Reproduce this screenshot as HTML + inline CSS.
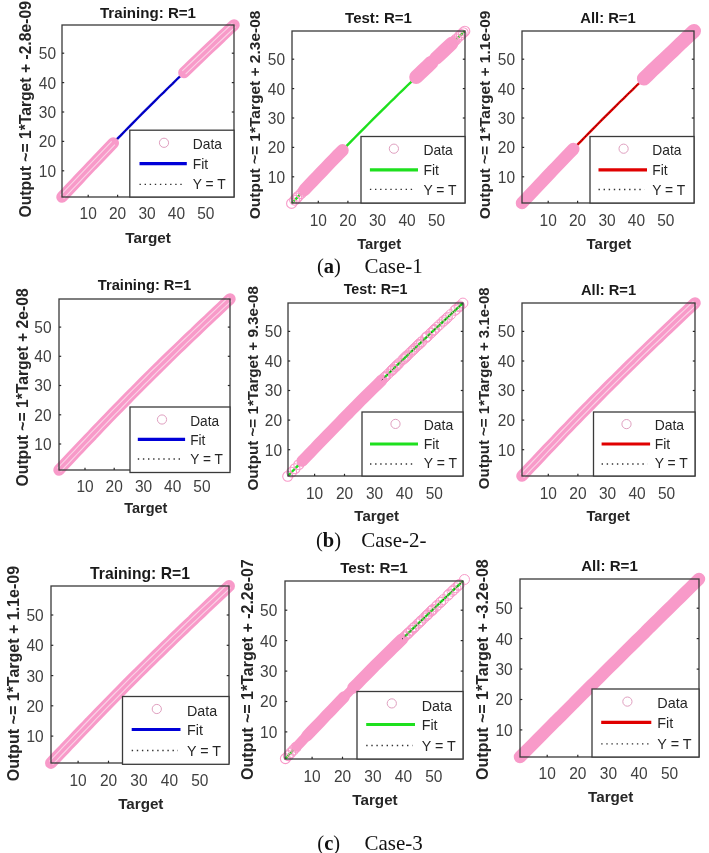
<!DOCTYPE html>
<html><head><meta charset="utf-8"><style>
html,body{margin:0;padding:0;background:#fff;width:709px;height:853px;overflow:hidden}
svg{display:block;filter:blur(0.3px)}
text{font-family:"Liberation Sans",sans-serif}
.serif{font-family:"Liberation Serif",serif}
</style></head><body>
<svg width="709" height="853" viewBox="0 0 709 853">
<rect width="709" height="853" fill="#fff"/>
<polyline points="62.0,197.0 66.2,192.6 70.3,188.1 74.5,183.7 78.7,179.3 82.9,174.9 87.1,170.5 91.3,166.1 95.5,161.7 99.7,157.3 103.9,152.9 108.1,148.5 112.3,144.1 116.5,139.7 120.8,135.4 125.0,131.0 129.3,126.7 133.5,122.3 137.8,118.0 142.1,113.7 146.4,109.4 150.7,105.1 155.0,100.8 159.3,96.5 163.7,92.3 168.0,88.0 172.4,83.8 176.7,79.5 181.1,75.3 185.5,71.1 189.9,66.9 194.3,62.7 198.7,58.5 203.1,54.3 207.5,50.1 211.9,45.9 216.3,41.7 220.7,37.5 225.1,33.3 229.6,29.2 234.0,25.0" fill="none" stroke="#0000d8" stroke-width="2.4"/>
<polyline points="62.0,197.0 66.2,192.6 70.3,188.1 74.5,183.7 78.7,179.3 82.9,174.9 87.1,170.5 91.3,166.1 95.5,161.7 99.7,157.3 103.9,152.9 108.1,148.5 112.3,144.1 116.5,139.7 120.8,135.4 125.0,131.0 129.3,126.7 133.5,122.3 137.8,118.0 142.1,113.7 146.4,109.4 150.7,105.1 155.0,100.8 159.3,96.5 163.7,92.3 168.0,88.0 172.4,83.8 176.7,79.5 181.1,75.3 185.5,71.1 189.9,66.9 194.3,62.7 198.7,58.5 203.1,54.3 207.5,50.1 211.9,45.9 216.3,41.7 220.7,37.5 225.1,33.3 229.6,29.2 234.0,25.0" fill="none" stroke="#222" stroke-width="1" stroke-dasharray="1.2 2.6"/>
<polyline points="62.0,197.0 66.3,192.5 70.5,188.0 74.8,183.5 79.0,179.0 83.3,174.4 87.6,169.9 91.8,165.4 96.1,161.0 100.4,156.5 104.7,152.0 109.0,147.5 113.3,143.1" fill="none" stroke="#f89ac9" stroke-width="11.5" stroke-linecap="round" stroke-linejoin="round"/>
<polyline points="60.4,195.4 64.6,190.9 68.9,186.3 73.2,181.8 77.4,177.3 81.7,172.8 85.9,168.3 90.2,163.8 94.5,159.3 98.8,154.8 103.1,150.4 107.4,145.9 111.7,141.4" fill="none" stroke="#fad3e6" stroke-width="1.1"/>
<polyline points="63.6,198.6 67.9,194.1 72.1,189.6 76.4,185.1 80.7,180.6 84.9,176.1 89.2,171.6 93.5,167.1 97.8,162.6 102.0,158.1 106.3,153.6 110.6,149.1 114.9,144.7" fill="none" stroke="#fad3e6" stroke-width="1.1"/>
<polyline points="183.9,72.6 188.1,68.6 192.2,64.6 196.4,60.6 200.6,56.6 204.7,52.7 208.9,48.7 213.1,44.8 217.3,40.8 221.4,36.8 225.6,32.9 229.8,28.9 234.0,25.0" fill="none" stroke="#f89ac9" stroke-width="11.5" stroke-linecap="round" stroke-linejoin="round"/>
<polyline points="182.3,70.9 186.5,66.9 190.6,63.0 194.8,59.0 198.9,55.0 203.1,51.0 207.3,47.1 211.5,43.1 215.6,39.2 219.8,35.2 224.0,31.3 228.2,27.3 232.4,23.4" fill="none" stroke="#fad3e6" stroke-width="1.1"/>
<polyline points="185.6,74.2 189.7,70.2 193.9,66.2 198.0,62.2 202.2,58.3 206.4,54.3 210.5,50.3 214.7,46.4 218.9,42.4 223.1,38.5 227.3,34.5 231.4,30.6 235.6,26.6" fill="none" stroke="#fad3e6" stroke-width="1.1"/>
<rect x="62" y="25" width="172" height="172" fill="none" stroke="#3a3a3a" stroke-width="1.3"/>
<line x1="88.2" y1="197" x2="88.2" y2="194.8" stroke="#2a2a2a" stroke-width="1.2"/>
<line x1="62" y1="170.8" x2="64.2" y2="170.8" stroke="#2a2a2a" stroke-width="1.2"/>
<line x1="234" y1="170.8" x2="231.8" y2="170.8" stroke="#2a2a2a" stroke-width="1.2"/>
<text transform="translate(56.0,176.7) scale(1,1.09)" text-anchor="end" font-size="15.5" fill="#404040">10</text>
<text transform="translate(88.2,219.1) scale(1,1.06)" text-anchor="middle" font-size="15.5" fill="#404040">10</text>
<line x1="117.6" y1="197" x2="117.6" y2="194.8" stroke="#2a2a2a" stroke-width="1.2"/>
<line x1="62" y1="141.4" x2="64.2" y2="141.4" stroke="#2a2a2a" stroke-width="1.2"/>
<line x1="234" y1="141.4" x2="231.8" y2="141.4" stroke="#2a2a2a" stroke-width="1.2"/>
<text transform="translate(56.0,147.3) scale(1,1.09)" text-anchor="end" font-size="15.5" fill="#404040">20</text>
<text transform="translate(117.6,219.1) scale(1,1.06)" text-anchor="middle" font-size="15.5" fill="#404040">20</text>
<line x1="147.0" y1="197" x2="147.0" y2="194.8" stroke="#2a2a2a" stroke-width="1.2"/>
<line x1="62" y1="112.0" x2="64.2" y2="112.0" stroke="#2a2a2a" stroke-width="1.2"/>
<line x1="234" y1="112.0" x2="231.8" y2="112.0" stroke="#2a2a2a" stroke-width="1.2"/>
<text transform="translate(56.0,117.9) scale(1,1.09)" text-anchor="end" font-size="15.5" fill="#404040">30</text>
<text transform="translate(147.0,219.1) scale(1,1.06)" text-anchor="middle" font-size="15.5" fill="#404040">30</text>
<line x1="176.4" y1="197" x2="176.4" y2="194.8" stroke="#2a2a2a" stroke-width="1.2"/>
<line x1="62" y1="82.6" x2="64.2" y2="82.6" stroke="#2a2a2a" stroke-width="1.2"/>
<line x1="234" y1="82.6" x2="231.8" y2="82.6" stroke="#2a2a2a" stroke-width="1.2"/>
<text transform="translate(56.0,88.5) scale(1,1.09)" text-anchor="end" font-size="15.5" fill="#404040">40</text>
<text transform="translate(176.4,219.1) scale(1,1.06)" text-anchor="middle" font-size="15.5" fill="#404040">40</text>
<line x1="205.8" y1="197" x2="205.8" y2="194.8" stroke="#2a2a2a" stroke-width="1.2"/>
<line x1="62" y1="53.2" x2="64.2" y2="53.2" stroke="#2a2a2a" stroke-width="1.2"/>
<line x1="234" y1="53.2" x2="231.8" y2="53.2" stroke="#2a2a2a" stroke-width="1.2"/>
<text transform="translate(56.0,59.1) scale(1,1.09)" text-anchor="end" font-size="15.5" fill="#404040">50</text>
<text transform="translate(205.8,219.1) scale(1,1.06)" text-anchor="middle" font-size="15.5" fill="#404040">50</text>
<text x="148.0" y="17.8" text-anchor="middle" font-size="15.1" font-weight="bold" fill="#1a1a1a">Training: R=1</text>
<text x="148.1" y="243.2" text-anchor="middle" font-size="15.3" font-weight="bold" fill="#262626">Target</text>
<text transform="translate(31.35,217.5) rotate(-90)" font-size="15.7" font-weight="bold" fill="#262626">Output ~= 1*Target + -2.8e-09</text>
<rect x="129.8" y="130.2" width="104.2" height="66.8" fill="#ffffff" stroke="#3a3a3a" stroke-width="1.3"/>
<circle cx="164.0" cy="142.8" r="4.6" fill="none" stroke="#e0a0c0" stroke-width="1"/>
<line x1="139.5" y1="163.7" x2="186.8" y2="163.7" stroke="#0000d8" stroke-width="3.2"/>
<line x1="139.5" y1="184.3" x2="184.3" y2="184.3" stroke="#333" stroke-width="1.3" stroke-dasharray="1.4 3.7"/>
<text transform="translate(192.8,149.0) scale(1,1.08)" font-size="13.8" fill="#262626">Data</text>
<text transform="translate(192.8,168.5) scale(1,1.08)" font-size="13.8" fill="#262626">Fit</text>
<text transform="translate(192.8,188.6) scale(1,1.08)" font-size="13.8" fill="#262626">Y = T</text>
<polyline points="292.0,203.0 296.2,198.6 300.4,194.1 304.6,189.7 308.8,185.3 313.0,180.9 317.2,176.5 321.4,172.1 325.7,167.7 329.9,163.3 334.1,158.9 338.4,154.5 342.6,150.1 346.9,145.7 351.1,141.4 355.4,137.0 359.7,132.7 364.0,128.3 368.3,124.0 372.6,119.7 376.9,115.4 381.2,111.1 385.6,106.8 389.9,102.5 394.3,98.3 398.6,94.0 403.0,89.8 407.4,85.5 411.8,81.3 416.2,77.1 420.6,72.9 425.0,68.7 429.5,64.5 433.9,60.3 438.3,56.1 442.8,51.9 447.2,47.7 451.7,43.5 456.1,39.3 460.5,35.2 465.0,31.0" fill="none" stroke="#1ee01e" stroke-width="2.4"/>
<circle cx="291.6" cy="203.4" r="5.0" fill="none" stroke="#f89ac9" stroke-width="1.1"/>
<circle cx="294.7" cy="200.2" r="5.0" fill="none" stroke="#f89ac9" stroke-width="1.1"/>
<circle cx="296.8" cy="198.0" r="5.0" fill="none" stroke="#f89ac9" stroke-width="1.1"/>
<circle cx="298.4" cy="196.2" r="5.0" fill="none" stroke="#f89ac9" stroke-width="1.1"/>
<circle cx="301.0" cy="193.6" r="5.0" fill="none" stroke="#f89ac9" stroke-width="1.1"/>
<circle cx="303.1" cy="191.3" r="5.0" fill="none" stroke="#f89ac9" stroke-width="1.1"/>
<polyline points="304.6,189.7 308.8,185.3 313.0,180.9 317.2,176.5 321.4,172.1 325.6,167.7 329.8,163.3 334.0,159.0 338.2,154.6 342.5,150.3" fill="none" stroke="#f89ac9" stroke-width="12.5" stroke-linecap="round" stroke-linejoin="round"/>
<polyline points="416.2,77.1 419.9,73.5 423.7,69.9 427.5,66.3 431.3,62.7" fill="none" stroke="#f89ac9" stroke-width="14.0" stroke-linecap="round" stroke-linejoin="round"/>
<polyline points="431.3,62.7 433.5,60.6 435.8,58.4" fill="none" stroke="#f89ac9" stroke-width="10.5" stroke-linecap="round" stroke-linejoin="round"/>
<polyline points="435.8,58.4 439.8,54.7 443.7,51.0 447.7,47.3 451.6,43.6" fill="none" stroke="#f89ac9" stroke-width="13.5" stroke-linecap="round" stroke-linejoin="round"/>
<circle cx="451.6" cy="43.6" r="5.0" fill="none" stroke="#f89ac9" stroke-width="1.1"/>
<circle cx="453.5" cy="41.7" r="5.0" fill="none" stroke="#f89ac9" stroke-width="1.1"/>
<circle cx="454.5" cy="40.9" r="5.0" fill="none" stroke="#f89ac9" stroke-width="1.1"/>
<circle cx="456.5" cy="39.0" r="5.0" fill="none" stroke="#f89ac9" stroke-width="1.1"/>
<circle cx="459.4" cy="36.2" r="5.0" fill="none" stroke="#f89ac9" stroke-width="1.1"/>
<circle cx="461.3" cy="34.5" r="5.0" fill="none" stroke="#f89ac9" stroke-width="1.1"/>
<circle cx="463.2" cy="32.7" r="5.0" fill="none" stroke="#f89ac9" stroke-width="1.1"/>
<circle cx="464.8" cy="31.2" r="5.0" fill="none" stroke="#f89ac9" stroke-width="1.1"/>
<rect x="292" y="31" width="173" height="172" fill="none" stroke="#3a3a3a" stroke-width="1.3"/>
<line x1="318.3" y1="203" x2="318.3" y2="200.8" stroke="#2a2a2a" stroke-width="1.2"/>
<line x1="292" y1="176.8" x2="294.2" y2="176.8" stroke="#2a2a2a" stroke-width="1.2"/>
<line x1="465" y1="176.8" x2="462.8" y2="176.8" stroke="#2a2a2a" stroke-width="1.2"/>
<text transform="translate(285.0,182.7) scale(1,1.09)" text-anchor="end" font-size="15.5" fill="#404040">10</text>
<text transform="translate(318.3,226.0) scale(1,1.06)" text-anchor="middle" font-size="15.5" fill="#404040">10</text>
<line x1="347.9" y1="203" x2="347.9" y2="200.8" stroke="#2a2a2a" stroke-width="1.2"/>
<line x1="292" y1="147.4" x2="294.2" y2="147.4" stroke="#2a2a2a" stroke-width="1.2"/>
<line x1="465" y1="147.4" x2="462.8" y2="147.4" stroke="#2a2a2a" stroke-width="1.2"/>
<text transform="translate(285.0,153.3) scale(1,1.09)" text-anchor="end" font-size="15.5" fill="#404040">20</text>
<text transform="translate(347.9,226.0) scale(1,1.06)" text-anchor="middle" font-size="15.5" fill="#404040">20</text>
<line x1="377.5" y1="203" x2="377.5" y2="200.8" stroke="#2a2a2a" stroke-width="1.2"/>
<line x1="292" y1="118.0" x2="294.2" y2="118.0" stroke="#2a2a2a" stroke-width="1.2"/>
<line x1="465" y1="118.0" x2="462.8" y2="118.0" stroke="#2a2a2a" stroke-width="1.2"/>
<text transform="translate(285.0,123.9) scale(1,1.09)" text-anchor="end" font-size="15.5" fill="#404040">30</text>
<text transform="translate(377.5,226.0) scale(1,1.06)" text-anchor="middle" font-size="15.5" fill="#404040">30</text>
<line x1="407.0" y1="203" x2="407.0" y2="200.8" stroke="#2a2a2a" stroke-width="1.2"/>
<line x1="292" y1="88.6" x2="294.2" y2="88.6" stroke="#2a2a2a" stroke-width="1.2"/>
<line x1="465" y1="88.6" x2="462.8" y2="88.6" stroke="#2a2a2a" stroke-width="1.2"/>
<text transform="translate(285.0,94.5) scale(1,1.09)" text-anchor="end" font-size="15.5" fill="#404040">40</text>
<text transform="translate(407.0,226.0) scale(1,1.06)" text-anchor="middle" font-size="15.5" fill="#404040">40</text>
<line x1="436.6" y1="203" x2="436.6" y2="200.8" stroke="#2a2a2a" stroke-width="1.2"/>
<line x1="292" y1="59.2" x2="294.2" y2="59.2" stroke="#2a2a2a" stroke-width="1.2"/>
<line x1="465" y1="59.2" x2="462.8" y2="59.2" stroke="#2a2a2a" stroke-width="1.2"/>
<text transform="translate(285.0,65.1) scale(1,1.09)" text-anchor="end" font-size="15.5" fill="#404040">50</text>
<text transform="translate(436.6,226.0) scale(1,1.06)" text-anchor="middle" font-size="15.5" fill="#404040">50</text>
<text x="378.5" y="22.8" text-anchor="middle" font-size="15.0" font-weight="bold" fill="#1a1a1a">Test: R=1</text>
<text x="379.2" y="248.9" text-anchor="middle" font-size="14.8" font-weight="bold" fill="#262626">Target</text>
<text transform="translate(260.3,219.2) rotate(-90)" font-size="15.5" font-weight="bold" fill="#262626">Output ~= 1*Target + 2.3e-08</text>
<rect x="361" y="136.5" width="104.0" height="66.5" fill="#ffffff" stroke="#3a3a3a" stroke-width="1.3"/>
<circle cx="393.9" cy="148.7" r="4.6" fill="none" stroke="#e0a0c0" stroke-width="1"/>
<line x1="369.9" y1="169.8" x2="418.0" y2="169.8" stroke="#1ee01e" stroke-width="3.2"/>
<line x1="369.9" y1="189.3" x2="415.5" y2="189.3" stroke="#333" stroke-width="1.3" stroke-dasharray="1.4 3.7"/>
<text transform="translate(423.5,155.3) scale(1,1.08)" font-size="13.9" fill="#262626">Data</text>
<text transform="translate(423.5,174.6) scale(1,1.08)" font-size="13.9" fill="#262626">Fit</text>
<text transform="translate(423.5,194.7) scale(1,1.08)" font-size="13.9" fill="#262626">Y = T</text>
<polyline points="522.0,203.0 526.2,198.6 530.3,194.1 534.5,189.7 538.7,185.3 542.9,180.9 547.1,176.5 551.3,172.1 555.5,167.7 559.7,163.3 563.9,158.9 568.1,154.5 572.3,150.1 576.5,145.7 580.8,141.4 585.0,137.0 589.3,132.7 593.5,128.3 597.8,124.0 602.1,119.7 606.4,115.4 610.7,111.1 615.0,106.8 619.3,102.5 623.7,98.3 628.0,94.0 632.4,89.8 636.7,85.5 641.1,81.3 645.5,77.1 649.9,72.9 654.3,68.7 658.7,64.5 663.1,60.3 667.5,56.1 671.9,51.9 676.3,47.7 680.7,43.5 685.1,39.3 689.6,35.2 694.0,31.0" fill="none" stroke="#e00000" stroke-width="2.4"/>
<polyline points="522.0,203.0 526.2,198.6 530.3,194.1 534.5,189.7 538.7,185.3 542.9,180.9 547.1,176.5 551.3,172.1 555.5,167.7 559.7,163.3 563.9,158.9 568.1,154.5 572.3,150.1 576.5,145.7 580.8,141.4 585.0,137.0 589.3,132.7 593.5,128.3 597.8,124.0 602.1,119.7 606.4,115.4 610.7,111.1 615.0,106.8 619.3,102.5 623.7,98.3 628.0,94.0 632.4,89.8 636.7,85.5 641.1,81.3 645.5,77.1 649.9,72.9 654.3,68.7 658.7,64.5 663.1,60.3 667.5,56.1 671.9,51.9 676.3,47.7 680.7,43.5 685.1,39.3 689.6,35.2 694.0,31.0" fill="none" stroke="#222" stroke-width="1" stroke-dasharray="1.2 2.6"/>
<polyline points="522.0,203.0 526.3,198.5 530.5,194.0 534.8,189.5 539.0,185.0 543.3,180.4 547.6,175.9 551.8,171.4 556.1,167.0 560.4,162.5 564.7,158.0 569.0,153.5 573.3,149.1" fill="none" stroke="#f89ac9" stroke-width="12.5" stroke-linecap="round" stroke-linejoin="round"/>
<polyline points="643.9,78.6 648.1,74.6 652.2,70.6 656.4,66.6 660.6,62.6 664.7,58.7 668.9,54.7 673.1,50.8 677.3,46.8 681.4,42.8 685.6,38.9 689.8,34.9 694.0,31.0" fill="none" stroke="#f89ac9" stroke-width="14.0" stroke-linecap="round" stroke-linejoin="round"/>
<rect x="522" y="31" width="172" height="172" fill="none" stroke="#3a3a3a" stroke-width="1.3"/>
<line x1="548.2" y1="203" x2="548.2" y2="200.8" stroke="#2a2a2a" stroke-width="1.2"/>
<line x1="522" y1="176.8" x2="524.2" y2="176.8" stroke="#2a2a2a" stroke-width="1.2"/>
<line x1="694" y1="176.8" x2="691.8" y2="176.8" stroke="#2a2a2a" stroke-width="1.2"/>
<text transform="translate(515.0,182.7) scale(1,1.09)" text-anchor="end" font-size="15.5" fill="#404040">10</text>
<text transform="translate(548.2,226.0) scale(1,1.06)" text-anchor="middle" font-size="15.5" fill="#404040">10</text>
<line x1="577.6" y1="203" x2="577.6" y2="200.8" stroke="#2a2a2a" stroke-width="1.2"/>
<line x1="522" y1="147.4" x2="524.2" y2="147.4" stroke="#2a2a2a" stroke-width="1.2"/>
<line x1="694" y1="147.4" x2="691.8" y2="147.4" stroke="#2a2a2a" stroke-width="1.2"/>
<text transform="translate(515.0,153.3) scale(1,1.09)" text-anchor="end" font-size="15.5" fill="#404040">20</text>
<text transform="translate(577.6,226.0) scale(1,1.06)" text-anchor="middle" font-size="15.5" fill="#404040">20</text>
<line x1="607.0" y1="203" x2="607.0" y2="200.8" stroke="#2a2a2a" stroke-width="1.2"/>
<line x1="522" y1="118.0" x2="524.2" y2="118.0" stroke="#2a2a2a" stroke-width="1.2"/>
<line x1="694" y1="118.0" x2="691.8" y2="118.0" stroke="#2a2a2a" stroke-width="1.2"/>
<text transform="translate(515.0,123.9) scale(1,1.09)" text-anchor="end" font-size="15.5" fill="#404040">30</text>
<text transform="translate(607.0,226.0) scale(1,1.06)" text-anchor="middle" font-size="15.5" fill="#404040">30</text>
<line x1="636.4" y1="203" x2="636.4" y2="200.8" stroke="#2a2a2a" stroke-width="1.2"/>
<line x1="522" y1="88.6" x2="524.2" y2="88.6" stroke="#2a2a2a" stroke-width="1.2"/>
<line x1="694" y1="88.6" x2="691.8" y2="88.6" stroke="#2a2a2a" stroke-width="1.2"/>
<text transform="translate(515.0,94.5) scale(1,1.09)" text-anchor="end" font-size="15.5" fill="#404040">40</text>
<text transform="translate(636.4,226.0) scale(1,1.06)" text-anchor="middle" font-size="15.5" fill="#404040">40</text>
<line x1="665.8" y1="203" x2="665.8" y2="200.8" stroke="#2a2a2a" stroke-width="1.2"/>
<line x1="522" y1="59.2" x2="524.2" y2="59.2" stroke="#2a2a2a" stroke-width="1.2"/>
<line x1="694" y1="59.2" x2="691.8" y2="59.2" stroke="#2a2a2a" stroke-width="1.2"/>
<text transform="translate(515.0,65.1) scale(1,1.09)" text-anchor="end" font-size="15.5" fill="#404040">50</text>
<text transform="translate(665.8,226.0) scale(1,1.06)" text-anchor="middle" font-size="15.5" fill="#404040">50</text>
<text x="608.0" y="22.8" text-anchor="middle" font-size="14.8" font-weight="bold" fill="#1a1a1a">All: R=1</text>
<text x="608.9" y="249.1" text-anchor="middle" font-size="15.0" font-weight="bold" fill="#262626">Target</text>
<text transform="translate(490.3,219.2) rotate(-90)" font-size="15.5" font-weight="bold" fill="#262626">Output ~= 1*Target + 1.1e-09</text>
<rect x="590" y="136.5" width="104.0" height="66.5" fill="#ffffff" stroke="#3a3a3a" stroke-width="1.3"/>
<circle cx="623.6" cy="148.7" r="4.6" fill="none" stroke="#e0a0c0" stroke-width="1"/>
<line x1="598.5" y1="169.8" x2="647.0" y2="169.8" stroke="#e00000" stroke-width="3.2"/>
<line x1="598.5" y1="189.5" x2="644.5" y2="189.5" stroke="#333" stroke-width="1.3" stroke-dasharray="1.4 3.7"/>
<text transform="translate(652.3,155.3) scale(1,1.08)" font-size="13.8" fill="#262626">Data</text>
<text transform="translate(652.3,174.6) scale(1,1.08)" font-size="13.8" fill="#262626">Fit</text>
<text transform="translate(652.3,194.7) scale(1,1.08)" font-size="13.8" fill="#262626">Y = T</text>
<polyline points="59.0,470.0 63.1,465.6 67.3,461.2 71.5,456.8 75.6,452.4 79.8,448.0 83.9,443.6 88.1,439.2 92.3,434.9 96.4,430.5 100.6,426.1 104.8,421.8 109.0,417.4 113.2,413.1 117.4,408.7 121.6,404.4 125.9,400.1 130.1,395.8 134.4,391.5 138.6,387.2 142.9,382.9 147.2,378.6 151.5,374.4 155.8,370.1 160.1,365.9 164.4,361.6 168.7,357.4 173.1,353.2 177.4,349.0 181.8,344.8 186.1,340.6 190.5,336.4 194.9,332.3 199.2,328.1 203.6,323.9 208.0,319.8 212.4,315.6 216.8,311.5 221.2,307.3 225.6,303.1 230.0,299.0" fill="none" stroke="#f89ac9" stroke-width="11.4" stroke-linecap="round" stroke-linejoin="round"/>
<polyline points="57.4,468.4 61.5,464.0 65.7,459.6 69.8,455.2 74.0,450.8 78.1,446.4 82.3,442.0 86.5,437.6 90.6,433.2 94.8,428.9 99.0,424.5 103.2,420.1 107.4,415.8 111.6,411.4 115.8,407.1 120.0,402.8 124.3,398.5 128.5,394.1 132.7,389.8 137.0,385.6 141.3,381.3 145.6,377.0 149.8,372.7 154.1,368.5 158.5,364.3 162.8,360.0 167.1,355.8 171.4,351.6 175.8,347.4 180.1,343.2 184.5,339.0 188.9,334.8 193.2,330.6 197.6,326.5 202.0,322.3 206.4,318.1 210.8,314.0 215.2,309.8 219.6,305.7 224.0,301.5 228.4,297.4" fill="none" stroke="#fad3e6" stroke-width="1.1"/>
<polyline points="60.6,471.6 64.8,467.2 68.9,462.8 73.1,458.4 77.2,454.0 81.4,449.6 85.5,445.2 89.7,440.9 93.9,436.5 98.1,432.1 102.2,427.7 106.4,423.4 110.6,419.0 114.8,414.7 119.1,410.4 123.3,406.0 127.5,401.7 131.7,397.4 136.0,393.1 140.3,388.8 144.5,384.5 148.8,380.3 153.1,376.0 157.4,371.7 161.7,367.5 166.0,363.3 170.4,359.1 174.7,354.8 179.0,350.6 183.4,346.4 187.7,342.2 192.1,338.1 196.5,333.9 200.9,329.7 205.2,325.5 209.6,321.4 214.0,317.2 218.4,313.1 222.8,308.9 227.2,304.8 231.6,300.6" fill="none" stroke="#fad3e6" stroke-width="1.1"/>
<rect x="59" y="299" width="171" height="171" fill="none" stroke="#3a3a3a" stroke-width="1.3"/>
<line x1="85.0" y1="470" x2="85.0" y2="467.8" stroke="#2a2a2a" stroke-width="1.2"/>
<line x1="59" y1="444.0" x2="61.2" y2="444.0" stroke="#2a2a2a" stroke-width="1.2"/>
<line x1="230" y1="444.0" x2="227.8" y2="444.0" stroke="#2a2a2a" stroke-width="1.2"/>
<text transform="translate(51.5,449.9) scale(1,1.09)" text-anchor="end" font-size="15.5" fill="#404040">10</text>
<text transform="translate(85.0,492.1) scale(1,1.06)" text-anchor="middle" font-size="15.5" fill="#404040">10</text>
<line x1="114.2" y1="470" x2="114.2" y2="467.8" stroke="#2a2a2a" stroke-width="1.2"/>
<line x1="59" y1="414.8" x2="61.2" y2="414.8" stroke="#2a2a2a" stroke-width="1.2"/>
<line x1="230" y1="414.8" x2="227.8" y2="414.8" stroke="#2a2a2a" stroke-width="1.2"/>
<text transform="translate(51.5,420.7) scale(1,1.09)" text-anchor="end" font-size="15.5" fill="#404040">20</text>
<text transform="translate(114.2,492.1) scale(1,1.06)" text-anchor="middle" font-size="15.5" fill="#404040">20</text>
<line x1="143.5" y1="470" x2="143.5" y2="467.8" stroke="#2a2a2a" stroke-width="1.2"/>
<line x1="59" y1="385.5" x2="61.2" y2="385.5" stroke="#2a2a2a" stroke-width="1.2"/>
<line x1="230" y1="385.5" x2="227.8" y2="385.5" stroke="#2a2a2a" stroke-width="1.2"/>
<text transform="translate(51.5,391.4) scale(1,1.09)" text-anchor="end" font-size="15.5" fill="#404040">30</text>
<text transform="translate(143.5,492.1) scale(1,1.06)" text-anchor="middle" font-size="15.5" fill="#404040">30</text>
<line x1="172.7" y1="470" x2="172.7" y2="467.8" stroke="#2a2a2a" stroke-width="1.2"/>
<line x1="59" y1="356.3" x2="61.2" y2="356.3" stroke="#2a2a2a" stroke-width="1.2"/>
<line x1="230" y1="356.3" x2="227.8" y2="356.3" stroke="#2a2a2a" stroke-width="1.2"/>
<text transform="translate(51.5,362.2) scale(1,1.09)" text-anchor="end" font-size="15.5" fill="#404040">40</text>
<text transform="translate(172.7,492.1) scale(1,1.06)" text-anchor="middle" font-size="15.5" fill="#404040">40</text>
<line x1="201.9" y1="470" x2="201.9" y2="467.8" stroke="#2a2a2a" stroke-width="1.2"/>
<line x1="59" y1="327.1" x2="61.2" y2="327.1" stroke="#2a2a2a" stroke-width="1.2"/>
<line x1="230" y1="327.1" x2="227.8" y2="327.1" stroke="#2a2a2a" stroke-width="1.2"/>
<text transform="translate(51.5,333.0) scale(1,1.09)" text-anchor="end" font-size="15.5" fill="#404040">50</text>
<text transform="translate(201.9,492.1) scale(1,1.06)" text-anchor="middle" font-size="15.5" fill="#404040">50</text>
<text x="144.5" y="290.25" text-anchor="middle" font-size="14.7" font-weight="bold" fill="#1a1a1a">Training: R=1</text>
<text x="145.8" y="513.2" text-anchor="middle" font-size="14.5" font-weight="bold" fill="#262626">Target</text>
<text transform="translate(28.25,486.4) rotate(-90)" font-size="15.7" font-weight="bold" fill="#262626">Output ~= 1*Target + 2e-08</text>
<rect x="130" y="407" width="100.0" height="65.5" fill="#ffffff" stroke="#3a3a3a" stroke-width="1.3"/>
<circle cx="162.0" cy="419.5" r="4.6" fill="none" stroke="#e0a0c0" stroke-width="1"/>
<line x1="137.8" y1="439.3" x2="185.1" y2="439.3" stroke="#0000d8" stroke-width="3.2"/>
<line x1="137.8" y1="459.0" x2="182.6" y2="459.0" stroke="#333" stroke-width="1.3" stroke-dasharray="1.4 3.7"/>
<text transform="translate(190.2,425.5) scale(1,1.08)" font-size="13.7" fill="#262626">Data</text>
<text transform="translate(190.2,444.5) scale(1,1.08)" font-size="13.7" fill="#262626">Fit</text>
<text transform="translate(190.2,464.3) scale(1,1.08)" font-size="13.7" fill="#262626">Y = T</text>
<polyline points="288.0,476.0 292.2,471.5 296.5,467.1 300.8,462.7 305.0,458.2 309.3,453.8 313.5,449.3 317.8,444.9 322.1,440.5 326.3,436.0 330.6,431.6 334.9,427.2 339.2,422.8 343.5,418.4 347.8,414.0 352.1,409.6 356.5,405.3 360.8,400.9 365.2,396.6 369.5,392.2 373.9,387.9 378.3,383.6 382.7,379.3 387.1,375.0 391.5,370.7 395.9,366.4 400.3,362.1 404.8,357.9 409.2,353.6 413.7,349.4 418.1,345.1 422.6,340.9 427.1,336.7 431.5,332.4 436.0,328.2 440.5,324.0 445.0,319.8 449.5,315.6 454.0,311.4 458.5,307.2 463.0,303.0" fill="none" stroke="#1ee01e" stroke-width="2.4"/>
<circle cx="287.7" cy="476.3" r="5.0" fill="none" stroke="#f89ac9" stroke-width="1.1"/>
<circle cx="291.6" cy="472.2" r="5.0" fill="none" stroke="#f89ac9" stroke-width="1.1"/>
<circle cx="295.0" cy="468.7" r="5.0" fill="none" stroke="#f89ac9" stroke-width="1.1"/>
<circle cx="298.8" cy="464.7" r="5.0" fill="none" stroke="#f89ac9" stroke-width="1.1"/>
<circle cx="302.4" cy="460.9" r="5.0" fill="none" stroke="#f89ac9" stroke-width="1.1"/>
<polyline points="302.2,461.1 306.4,456.8 310.5,452.5 314.7,448.1 318.8,443.8 323.0,439.5 327.1,435.2 331.3,430.9 335.4,426.7 339.6,422.4 343.8,418.1 348.0,413.9 352.2,409.6 356.4,405.4 360.6,401.1 364.8,396.9 369.1,392.7 373.3,388.5 377.6,384.3 381.8,380.1" fill="none" stroke="#f89ac9" stroke-width="11.5" stroke-linecap="round" stroke-linejoin="round"/>
<circle cx="381.0" cy="380.9" r="5.0" fill="none" stroke="#f89ac9" stroke-width="1.0"/>
<circle cx="381.9" cy="380.1" r="5.0" fill="none" stroke="#f89ac9" stroke-width="1.0"/>
<circle cx="384.1" cy="377.8" r="5.0" fill="none" stroke="#f89ac9" stroke-width="1.0"/>
<circle cx="384.7" cy="377.3" r="5.0" fill="none" stroke="#f89ac9" stroke-width="1.0"/>
<circle cx="385.7" cy="376.3" r="5.0" fill="none" stroke="#f89ac9" stroke-width="1.0"/>
<circle cx="388.1" cy="374.0" r="5.0" fill="none" stroke="#f89ac9" stroke-width="1.0"/>
<circle cx="391.1" cy="371.1" r="5.0" fill="none" stroke="#f89ac9" stroke-width="1.0"/>
<circle cx="392.0" cy="370.2" r="5.0" fill="none" stroke="#f89ac9" stroke-width="1.0"/>
<circle cx="393.2" cy="369.0" r="5.0" fill="none" stroke="#f89ac9" stroke-width="1.0"/>
<circle cx="392.8" cy="369.5" r="5.0" fill="none" stroke="#f89ac9" stroke-width="1.0"/>
<circle cx="395.1" cy="367.2" r="5.0" fill="none" stroke="#f89ac9" stroke-width="1.0"/>
<circle cx="395.6" cy="366.7" r="5.0" fill="none" stroke="#f89ac9" stroke-width="1.0"/>
<circle cx="396.6" cy="365.8" r="5.0" fill="none" stroke="#f89ac9" stroke-width="1.0"/>
<circle cx="397.7" cy="364.7" r="5.0" fill="none" stroke="#f89ac9" stroke-width="1.0"/>
<circle cx="399.3" cy="363.1" r="5.0" fill="none" stroke="#f89ac9" stroke-width="1.0"/>
<circle cx="402.9" cy="359.6" r="5.0" fill="none" stroke="#f89ac9" stroke-width="1.0"/>
<circle cx="404.0" cy="358.6" r="5.0" fill="none" stroke="#f89ac9" stroke-width="1.0"/>
<circle cx="405.2" cy="357.4" r="5.0" fill="none" stroke="#f89ac9" stroke-width="1.0"/>
<circle cx="406.5" cy="356.1" r="5.0" fill="none" stroke="#f89ac9" stroke-width="1.0"/>
<circle cx="405.9" cy="356.8" r="5.0" fill="none" stroke="#f89ac9" stroke-width="1.0"/>
<circle cx="407.6" cy="355.2" r="5.0" fill="none" stroke="#f89ac9" stroke-width="1.0"/>
<circle cx="409.9" cy="352.9" r="5.0" fill="none" stroke="#f89ac9" stroke-width="1.0"/>
<circle cx="411.6" cy="351.3" r="5.0" fill="none" stroke="#f89ac9" stroke-width="1.0"/>
<circle cx="413.3" cy="349.6" r="5.0" fill="none" stroke="#f89ac9" stroke-width="1.0"/>
<circle cx="414.7" cy="348.3" r="5.0" fill="none" stroke="#f89ac9" stroke-width="1.0"/>
<circle cx="413.5" cy="349.6" r="5.0" fill="none" stroke="#f89ac9" stroke-width="1.0"/>
<circle cx="416.5" cy="346.6" r="5.0" fill="none" stroke="#f89ac9" stroke-width="1.0"/>
<circle cx="418.0" cy="345.2" r="5.0" fill="none" stroke="#f89ac9" stroke-width="1.0"/>
<circle cx="418.8" cy="344.4" r="5.0" fill="none" stroke="#f89ac9" stroke-width="1.0"/>
<circle cx="419.1" cy="344.2" r="5.0" fill="none" stroke="#f89ac9" stroke-width="1.0"/>
<circle cx="421.4" cy="342.0" r="5.0" fill="none" stroke="#f89ac9" stroke-width="1.0"/>
<circle cx="421.5" cy="342.0" r="5.0" fill="none" stroke="#f89ac9" stroke-width="1.0"/>
<circle cx="425.5" cy="338.0" r="5.0" fill="none" stroke="#f89ac9" stroke-width="1.0"/>
<circle cx="426.7" cy="337.0" r="5.0" fill="none" stroke="#f89ac9" stroke-width="1.0"/>
<circle cx="427.0" cy="336.7" r="5.0" fill="none" stroke="#f89ac9" stroke-width="1.0"/>
<circle cx="427.5" cy="336.3" r="5.0" fill="none" stroke="#f89ac9" stroke-width="1.0"/>
<circle cx="430.8" cy="333.1" r="5.0" fill="none" stroke="#f89ac9" stroke-width="1.0"/>
<circle cx="431.1" cy="332.9" r="5.0" fill="none" stroke="#f89ac9" stroke-width="1.0"/>
<circle cx="433.4" cy="330.6" r="5.0" fill="none" stroke="#f89ac9" stroke-width="1.0"/>
<circle cx="434.6" cy="329.5" r="5.0" fill="none" stroke="#f89ac9" stroke-width="1.0"/>
<circle cx="434.0" cy="330.1" r="5.0" fill="none" stroke="#f89ac9" stroke-width="1.0"/>
<circle cx="436.9" cy="327.3" r="5.0" fill="none" stroke="#f89ac9" stroke-width="1.0"/>
<circle cx="439.6" cy="324.8" r="5.0" fill="none" stroke="#f89ac9" stroke-width="1.0"/>
<circle cx="442.6" cy="321.9" r="5.0" fill="none" stroke="#f89ac9" stroke-width="1.0"/>
<circle cx="444.3" cy="320.4" r="5.0" fill="none" stroke="#f89ac9" stroke-width="1.0"/>
<circle cx="447.5" cy="317.4" r="5.0" fill="none" stroke="#f89ac9" stroke-width="1.0"/>
<circle cx="446.3" cy="318.7" r="5.0" fill="none" stroke="#f89ac9" stroke-width="1.0"/>
<circle cx="450.6" cy="314.6" r="5.0" fill="none" stroke="#f89ac9" stroke-width="1.0"/>
<circle cx="454.9" cy="310.4" r="5.0" fill="none" stroke="#f89ac9" stroke-width="1.0"/>
<circle cx="456.2" cy="309.3" r="5.0" fill="none" stroke="#f89ac9" stroke-width="1.0"/>
<circle cx="459.7" cy="306.0" r="5.0" fill="none" stroke="#f89ac9" stroke-width="1.0"/>
<circle cx="459.0" cy="306.8" r="5.0" fill="none" stroke="#f89ac9" stroke-width="1.0"/>
<circle cx="462.9" cy="303.1" r="5.0" fill="none" stroke="#f89ac9" stroke-width="1.0"/>
<polyline points="384.8,377.1 389.1,373.0 393.4,368.8 397.7,364.6 402.0,360.5 406.4,356.3 410.7,352.2 415.0,348.1 419.3,344.0 423.7,339.8 428.0,335.7 432.4,331.6 436.8,327.5 441.1,323.4 445.5,319.3 449.9,315.3 454.2,311.2 458.6,307.1 463.0,303.0" fill="none" stroke="#1ee01e" stroke-width="2" stroke-dasharray="3 3" opacity="0.8"/>
<polyline points="381.8,380.1 386.3,375.7 390.7,371.4 395.2,367.1 399.7,362.7 404.2,358.4 408.6,354.1 413.1,349.8 417.7,345.6 422.2,341.3 426.7,337.0 431.2,332.7 435.7,328.5 440.3,324.2 444.8,320.0 449.4,315.7 453.9,311.5 458.5,307.2 463.0,303.0" fill="none" stroke="#222" stroke-width="1" stroke-dasharray="1.2 2.6"/>
<rect x="288" y="303" width="175" height="173" fill="none" stroke="#3a3a3a" stroke-width="1.3"/>
<line x1="314.6" y1="476" x2="314.6" y2="473.8" stroke="#2a2a2a" stroke-width="1.2"/>
<line x1="288" y1="449.7" x2="290.2" y2="449.7" stroke="#2a2a2a" stroke-width="1.2"/>
<line x1="463" y1="449.7" x2="460.8" y2="449.7" stroke="#2a2a2a" stroke-width="1.2"/>
<text transform="translate(282.0,455.6) scale(1,1.09)" text-anchor="end" font-size="15.5" fill="#404040">10</text>
<text transform="translate(314.6,499.1) scale(1,1.06)" text-anchor="middle" font-size="15.5" fill="#404040">10</text>
<line x1="344.5" y1="476" x2="344.5" y2="473.8" stroke="#2a2a2a" stroke-width="1.2"/>
<line x1="288" y1="420.1" x2="290.2" y2="420.1" stroke="#2a2a2a" stroke-width="1.2"/>
<line x1="463" y1="420.1" x2="460.8" y2="420.1" stroke="#2a2a2a" stroke-width="1.2"/>
<text transform="translate(282.0,426.0) scale(1,1.09)" text-anchor="end" font-size="15.5" fill="#404040">20</text>
<text transform="translate(344.5,499.1) scale(1,1.06)" text-anchor="middle" font-size="15.5" fill="#404040">20</text>
<line x1="374.5" y1="476" x2="374.5" y2="473.8" stroke="#2a2a2a" stroke-width="1.2"/>
<line x1="288" y1="390.5" x2="290.2" y2="390.5" stroke="#2a2a2a" stroke-width="1.2"/>
<line x1="463" y1="390.5" x2="460.8" y2="390.5" stroke="#2a2a2a" stroke-width="1.2"/>
<text transform="translate(282.0,396.4) scale(1,1.09)" text-anchor="end" font-size="15.5" fill="#404040">30</text>
<text transform="translate(374.5,499.1) scale(1,1.06)" text-anchor="middle" font-size="15.5" fill="#404040">30</text>
<line x1="404.4" y1="476" x2="404.4" y2="473.8" stroke="#2a2a2a" stroke-width="1.2"/>
<line x1="288" y1="361.0" x2="290.2" y2="361.0" stroke="#2a2a2a" stroke-width="1.2"/>
<line x1="463" y1="361.0" x2="460.8" y2="361.0" stroke="#2a2a2a" stroke-width="1.2"/>
<text transform="translate(282.0,366.9) scale(1,1.09)" text-anchor="end" font-size="15.5" fill="#404040">40</text>
<text transform="translate(404.4,499.1) scale(1,1.06)" text-anchor="middle" font-size="15.5" fill="#404040">40</text>
<line x1="434.3" y1="476" x2="434.3" y2="473.8" stroke="#2a2a2a" stroke-width="1.2"/>
<line x1="288" y1="331.4" x2="290.2" y2="331.4" stroke="#2a2a2a" stroke-width="1.2"/>
<line x1="463" y1="331.4" x2="460.8" y2="331.4" stroke="#2a2a2a" stroke-width="1.2"/>
<text transform="translate(282.0,337.3) scale(1,1.09)" text-anchor="end" font-size="15.5" fill="#404040">50</text>
<text transform="translate(434.3,499.1) scale(1,1.06)" text-anchor="middle" font-size="15.5" fill="#404040">50</text>
<text x="375.5" y="294.2" text-anchor="middle" font-size="14.3" font-weight="bold" fill="#1a1a1a">Test: R=1</text>
<text x="376.7" y="520.6" text-anchor="middle" font-size="15.0" font-weight="bold" fill="#262626">Target</text>
<text transform="translate(257.7,490.5) rotate(-90)" font-size="15.2" font-weight="bold" fill="#262626">Output ~= 1*Target + 9.3e-08</text>
<rect x="362" y="412" width="101.0" height="64.0" fill="#ffffff" stroke="#3a3a3a" stroke-width="1.3"/>
<circle cx="395.5" cy="423.9" r="4.6" fill="none" stroke="#e0a0c0" stroke-width="1"/>
<line x1="370.0" y1="444.0" x2="418.0" y2="444.0" stroke="#1ee01e" stroke-width="3.2"/>
<line x1="370.0" y1="464.0" x2="415.5" y2="464.0" stroke="#333" stroke-width="1.3" stroke-dasharray="1.4 3.7"/>
<text transform="translate(423.7,430.1) scale(1,1.08)" font-size="14.0" fill="#262626">Data</text>
<text transform="translate(423.7,448.7) scale(1,1.08)" font-size="14.0" fill="#262626">Fit</text>
<text transform="translate(423.7,468.0) scale(1,1.08)" font-size="14.0" fill="#262626">Y = T</text>
<polyline points="522.0,476.0 526.2,471.5 530.4,467.1 534.6,462.7 538.8,458.2 543.0,453.8 547.2,449.3 551.4,444.9 555.7,440.5 559.9,436.0 564.1,431.6 568.4,427.2 572.6,422.8 576.9,418.4 581.1,414.0 585.4,409.6 589.7,405.3 594.0,400.9 598.3,396.6 602.6,392.2 606.9,387.9 611.2,383.6 615.6,379.3 619.9,375.0 624.3,370.7 628.6,366.4 633.0,362.1 637.4,357.9 641.8,353.6 646.2,349.4 650.6,345.1 655.0,340.9 659.5,336.7 663.9,332.4 668.3,328.2 672.8,324.0 677.2,319.8 681.7,315.6 686.1,311.4 690.5,307.2 695.0,303.0" fill="none" stroke="#f89ac9" stroke-width="11.6" stroke-linecap="round" stroke-linejoin="round"/>
<polyline points="520.4,474.4 524.6,469.9 528.8,465.5 533.0,461.0 537.2,456.6 541.4,452.1 545.6,447.7 549.8,443.3 554.0,438.8 558.3,434.4 562.5,430.0 566.7,425.6 571.0,421.2 575.2,416.8 579.5,412.4 583.8,408.0 588.1,403.7 592.3,399.3 596.6,394.9 601.0,390.6 605.3,386.3 609.6,382.0 613.9,377.6 618.3,373.3 622.7,369.1 627.0,364.8 631.4,360.5 635.8,356.2 640.2,352.0 644.6,347.7 649.0,343.5 653.4,339.3 657.8,335.0 662.3,330.8 666.7,326.6 671.1,322.4 675.6,318.2 680.0,314.0 684.5,309.8 688.9,305.6 693.4,301.4" fill="none" stroke="#fad3e6" stroke-width="1.1"/>
<polyline points="523.6,477.6 527.8,473.2 532.0,468.7 536.2,464.3 540.4,459.8 544.6,455.4 548.8,450.9 553.1,446.5 557.3,442.1 561.5,437.7 565.7,433.2 570.0,428.8 574.2,424.4 578.5,420.0 582.8,415.7 587.0,411.3 591.3,406.9 595.6,402.5 599.9,398.2 604.2,393.9 608.5,389.5 612.9,385.2 617.2,380.9 621.5,376.6 625.9,372.3 630.3,368.0 634.7,363.8 639.0,359.5 643.4,355.2 647.8,351.0 652.2,346.7 656.7,342.5 661.1,338.3 665.5,334.1 669.9,329.8 674.4,325.6 678.8,321.4 683.3,317.2 687.7,313.0 692.2,308.8 696.6,304.6" fill="none" stroke="#fad3e6" stroke-width="1.1"/>
<rect x="522" y="303" width="173" height="173" fill="none" stroke="#3a3a3a" stroke-width="1.3"/>
<line x1="548.3" y1="476" x2="548.3" y2="473.8" stroke="#2a2a2a" stroke-width="1.2"/>
<line x1="522" y1="449.7" x2="524.2" y2="449.7" stroke="#2a2a2a" stroke-width="1.2"/>
<line x1="695" y1="449.7" x2="692.8" y2="449.7" stroke="#2a2a2a" stroke-width="1.2"/>
<text transform="translate(515.0,455.6) scale(1,1.09)" text-anchor="end" font-size="15.5" fill="#404040">10</text>
<text transform="translate(548.3,499.1) scale(1,1.06)" text-anchor="middle" font-size="15.5" fill="#404040">10</text>
<line x1="577.9" y1="476" x2="577.9" y2="473.8" stroke="#2a2a2a" stroke-width="1.2"/>
<line x1="522" y1="420.1" x2="524.2" y2="420.1" stroke="#2a2a2a" stroke-width="1.2"/>
<line x1="695" y1="420.1" x2="692.8" y2="420.1" stroke="#2a2a2a" stroke-width="1.2"/>
<text transform="translate(515.0,426.0) scale(1,1.09)" text-anchor="end" font-size="15.5" fill="#404040">20</text>
<text transform="translate(577.9,499.1) scale(1,1.06)" text-anchor="middle" font-size="15.5" fill="#404040">20</text>
<line x1="607.5" y1="476" x2="607.5" y2="473.8" stroke="#2a2a2a" stroke-width="1.2"/>
<line x1="522" y1="390.5" x2="524.2" y2="390.5" stroke="#2a2a2a" stroke-width="1.2"/>
<line x1="695" y1="390.5" x2="692.8" y2="390.5" stroke="#2a2a2a" stroke-width="1.2"/>
<text transform="translate(515.0,396.4) scale(1,1.09)" text-anchor="end" font-size="15.5" fill="#404040">30</text>
<text transform="translate(607.5,499.1) scale(1,1.06)" text-anchor="middle" font-size="15.5" fill="#404040">30</text>
<line x1="637.0" y1="476" x2="637.0" y2="473.8" stroke="#2a2a2a" stroke-width="1.2"/>
<line x1="522" y1="361.0" x2="524.2" y2="361.0" stroke="#2a2a2a" stroke-width="1.2"/>
<line x1="695" y1="361.0" x2="692.8" y2="361.0" stroke="#2a2a2a" stroke-width="1.2"/>
<text transform="translate(515.0,366.9) scale(1,1.09)" text-anchor="end" font-size="15.5" fill="#404040">40</text>
<text transform="translate(637.0,499.1) scale(1,1.06)" text-anchor="middle" font-size="15.5" fill="#404040">40</text>
<line x1="666.6" y1="476" x2="666.6" y2="473.8" stroke="#2a2a2a" stroke-width="1.2"/>
<line x1="522" y1="331.4" x2="524.2" y2="331.4" stroke="#2a2a2a" stroke-width="1.2"/>
<line x1="695" y1="331.4" x2="692.8" y2="331.4" stroke="#2a2a2a" stroke-width="1.2"/>
<text transform="translate(515.0,337.3) scale(1,1.09)" text-anchor="end" font-size="15.5" fill="#404040">50</text>
<text transform="translate(666.6,499.1) scale(1,1.06)" text-anchor="middle" font-size="15.5" fill="#404040">50</text>
<text x="608.5" y="295.2" text-anchor="middle" font-size="14.7" font-weight="bold" fill="#1a1a1a">All: R=1</text>
<text x="608.2" y="520.6" text-anchor="middle" font-size="14.6" font-weight="bold" fill="#262626">Target</text>
<text transform="translate(489.1,489.2) rotate(-90)" font-size="15.0" font-weight="bold" fill="#262626">Output ~= 1*Target + 3.1e-08</text>
<rect x="593.5" y="412" width="101.5" height="64.0" fill="#ffffff" stroke="#3a3a3a" stroke-width="1.3"/>
<circle cx="626.5" cy="424.1" r="4.6" fill="none" stroke="#e0a0c0" stroke-width="1"/>
<line x1="601.6" y1="444.0" x2="650.1" y2="444.0" stroke="#e00000" stroke-width="3.2"/>
<line x1="601.6" y1="464.0" x2="647.6" y2="464.0" stroke="#333" stroke-width="1.3" stroke-dasharray="1.4 3.7"/>
<text transform="translate(654.7,430.1) scale(1,1.08)" font-size="13.9" fill="#262626">Data</text>
<text transform="translate(654.7,448.7) scale(1,1.08)" font-size="13.9" fill="#262626">Fit</text>
<text transform="translate(654.7,468.0) scale(1,1.08)" font-size="13.9" fill="#262626">Y = T</text>
<polyline points="51.0,763.0 55.3,758.4 59.6,753.9 64.0,749.4 68.3,744.8 72.6,740.3 77.0,735.7 81.3,731.2 85.7,726.7 90.0,722.1 94.4,717.6 98.7,713.1 103.1,708.6 107.5,704.1 111.9,699.6 116.3,695.1 120.7,690.7 125.1,686.2 129.5,681.8 134.0,677.3 138.4,672.9 142.9,668.5 147.3,664.1 151.8,659.7 156.3,655.3 160.8,650.9 165.3,646.5 169.8,642.2 174.3,637.8 178.8,633.5 183.4,629.1 187.9,624.8 192.5,620.5 197.0,616.1 201.6,611.8 206.1,607.5 210.7,603.2 215.3,598.9 219.8,594.6 224.4,590.3 229.0,586.0" fill="none" stroke="#f89ac9" stroke-width="11.9" stroke-linecap="round" stroke-linejoin="round"/>
<polyline points="49.4,761.4 53.7,756.8 58.0,752.3 62.4,747.7 66.7,743.2 71.0,738.6 75.3,734.1 79.7,729.6 84.0,725.0 88.4,720.5 92.7,716.0 97.1,711.5 101.5,707.0 105.9,702.5 110.2,698.0 114.6,693.5 119.1,689.1 123.5,684.6 127.9,680.1 132.3,675.7 136.8,671.3 141.2,666.9 145.7,662.4 150.2,658.0 154.7,653.7 159.1,649.3 163.6,644.9 168.2,640.5 172.7,636.2 177.2,631.8 181.7,627.5 186.3,623.2 190.8,618.8 195.4,614.5 199.9,610.2 204.5,605.9 209.1,601.6 213.7,597.3 218.2,593.0 222.8,588.7 227.4,584.4" fill="none" stroke="#fad3e6" stroke-width="1.1"/>
<polyline points="52.6,764.6 57.0,760.1 61.3,755.5 65.6,751.0 69.9,746.4 74.3,741.9 78.6,737.3 82.9,732.8 87.3,728.3 91.6,723.8 96.0,719.2 100.4,714.7 104.7,710.2 109.1,705.7 113.5,701.3 117.9,696.8 122.3,692.3 126.7,687.8 131.1,683.4 135.6,679.0 140.0,674.5 144.5,670.1 148.9,665.7 153.4,661.3 157.9,656.9 162.4,652.5 166.9,648.2 171.4,643.8 175.9,639.4 180.5,635.1 185.0,630.7 189.5,626.4 194.1,622.1 198.6,617.8 203.2,613.4 207.8,609.1 212.3,604.8 216.9,600.5 221.5,596.2 226.1,591.9 230.6,587.6" fill="none" stroke="#fad3e6" stroke-width="1.1"/>
<rect x="51" y="586" width="178" height="177" fill="none" stroke="#3a3a3a" stroke-width="1.3"/>
<line x1="78.1" y1="763" x2="78.1" y2="760.7" stroke="#2a2a2a" stroke-width="1.2"/>
<line x1="51" y1="736.1" x2="53.3" y2="736.1" stroke="#2a2a2a" stroke-width="1.2"/>
<line x1="229" y1="736.1" x2="226.7" y2="736.1" stroke="#2a2a2a" stroke-width="1.2"/>
<text transform="translate(43.7,742.0) scale(1,1.09)" text-anchor="end" font-size="15.5" fill="#404040">10</text>
<text transform="translate(78.1,785.5) scale(1,1.06)" text-anchor="middle" font-size="15.5" fill="#404040">10</text>
<line x1="108.5" y1="763" x2="108.5" y2="760.7" stroke="#2a2a2a" stroke-width="1.2"/>
<line x1="51" y1="705.8" x2="53.3" y2="705.8" stroke="#2a2a2a" stroke-width="1.2"/>
<line x1="229" y1="705.8" x2="226.7" y2="705.8" stroke="#2a2a2a" stroke-width="1.2"/>
<text transform="translate(43.7,711.7) scale(1,1.09)" text-anchor="end" font-size="15.5" fill="#404040">20</text>
<text transform="translate(108.5,785.5) scale(1,1.06)" text-anchor="middle" font-size="15.5" fill="#404040">20</text>
<line x1="138.9" y1="763" x2="138.9" y2="760.7" stroke="#2a2a2a" stroke-width="1.2"/>
<line x1="51" y1="675.6" x2="53.3" y2="675.6" stroke="#2a2a2a" stroke-width="1.2"/>
<line x1="229" y1="675.6" x2="226.7" y2="675.6" stroke="#2a2a2a" stroke-width="1.2"/>
<text transform="translate(43.7,681.5) scale(1,1.09)" text-anchor="end" font-size="15.5" fill="#404040">30</text>
<text transform="translate(138.9,785.5) scale(1,1.06)" text-anchor="middle" font-size="15.5" fill="#404040">30</text>
<line x1="169.4" y1="763" x2="169.4" y2="760.7" stroke="#2a2a2a" stroke-width="1.2"/>
<line x1="51" y1="645.3" x2="53.3" y2="645.3" stroke="#2a2a2a" stroke-width="1.2"/>
<line x1="229" y1="645.3" x2="226.7" y2="645.3" stroke="#2a2a2a" stroke-width="1.2"/>
<text transform="translate(43.7,651.2) scale(1,1.09)" text-anchor="end" font-size="15.5" fill="#404040">40</text>
<text transform="translate(169.4,785.5) scale(1,1.06)" text-anchor="middle" font-size="15.5" fill="#404040">40</text>
<line x1="199.8" y1="763" x2="199.8" y2="760.7" stroke="#2a2a2a" stroke-width="1.2"/>
<line x1="51" y1="615.0" x2="53.3" y2="615.0" stroke="#2a2a2a" stroke-width="1.2"/>
<line x1="229" y1="615.0" x2="226.7" y2="615.0" stroke="#2a2a2a" stroke-width="1.2"/>
<text transform="translate(43.7,620.9) scale(1,1.09)" text-anchor="end" font-size="15.5" fill="#404040">50</text>
<text transform="translate(199.8,785.5) scale(1,1.06)" text-anchor="middle" font-size="15.5" fill="#404040">50</text>
<text x="140.0" y="578.6" text-anchor="middle" font-size="15.7" font-weight="bold" fill="#1a1a1a">Training: R=1</text>
<text x="140.8" y="808.8" text-anchor="middle" font-size="15.2" font-weight="bold" fill="#262626">Target</text>
<text transform="translate(19.2,781.3) rotate(-90)" font-size="16.0" font-weight="bold" fill="#262626">Output ~= 1*Target + 1.1e-09</text>
<rect x="122.5" y="696.5" width="106.5" height="67.8" fill="#ffffff" stroke="#3a3a3a" stroke-width="1.3"/>
<circle cx="156.8" cy="709.0" r="4.6" fill="none" stroke="#e0a0c0" stroke-width="1"/>
<line x1="131.7" y1="729.5" x2="180.5" y2="729.5" stroke="#0000d8" stroke-width="3.2"/>
<line x1="131.7" y1="750.5" x2="178.0" y2="750.5" stroke="#333" stroke-width="1.3" stroke-dasharray="1.4 3.7"/>
<text transform="translate(187.0,715.6) scale(1,1.08)" font-size="14.3" fill="#262626">Data</text>
<text transform="translate(187.0,735.4) scale(1,1.08)" font-size="14.3" fill="#262626">Fit</text>
<text transform="translate(187.0,755.8) scale(1,1.08)" font-size="14.3" fill="#262626">Y = T</text>
<polyline points="285.0,759.0 289.3,754.4 293.6,749.8 298.0,745.3 302.3,740.7 306.6,736.1 311.0,731.6 315.3,727.0 319.7,722.5 324.0,717.9 328.4,713.4 332.7,708.8 337.1,704.3 341.5,699.8 345.9,695.3 350.3,690.8 354.7,686.3 359.1,681.8 363.5,677.3 368.0,672.9 372.4,668.4 376.9,664.0 381.3,659.5 385.8,655.1 390.3,650.7 394.8,646.3 399.3,641.9 403.8,637.5 408.3,633.1 412.8,628.7 417.4,624.4 421.9,620.0 426.5,615.7 431.0,611.3 435.6,607.0 440.1,602.6 444.7,598.3 449.3,594.0 453.8,589.6 458.4,585.3 463.0,581.0" fill="none" stroke="#1ee01e" stroke-width="2.4"/>
<circle cx="285.4" cy="758.6" r="5.0" fill="none" stroke="#f89ac9" stroke-width="1.1"/>
<circle cx="288.3" cy="755.6" r="5.0" fill="none" stroke="#f89ac9" stroke-width="1.1"/>
<circle cx="290.7" cy="752.9" r="5.0" fill="none" stroke="#f89ac9" stroke-width="1.1"/>
<circle cx="293.4" cy="750.1" r="5.0" fill="none" stroke="#f89ac9" stroke-width="1.1"/>
<circle cx="295.9" cy="747.4" r="5.0" fill="none" stroke="#f89ac9" stroke-width="1.1"/>
<polyline points="296.5,746.8 299.5,743.7 302.5,740.5 305.4,737.4" fill="none" stroke="#f89ac9" stroke-width="10.0" stroke-linecap="round" stroke-linejoin="round"/>
<polyline points="306.9,735.9 311.0,731.5 315.1,727.2 319.3,722.9 323.4,718.6 327.5,714.2 331.7,709.9 335.8,705.6 340.0,701.3 344.1,697.0" fill="none" stroke="#f89ac9" stroke-width="11.5" stroke-linecap="round" stroke-linejoin="round"/>
<polyline points="344.1,697.0 347.2,694.0 350.2,690.9 353.2,687.8" fill="none" stroke="#f89ac9" stroke-width="9.0" stroke-linecap="round" stroke-linejoin="round"/>
<polyline points="353.2,687.8 357.6,683.4 362.0,678.9 366.4,674.5 370.8,670.0 375.2,665.6 379.6,661.2 384.1,656.8 388.5,652.4 393.0,648.0 397.5,643.6 402.0,639.2" fill="none" stroke="#f89ac9" stroke-width="12.0" stroke-linecap="round" stroke-linejoin="round"/>
<circle cx="401.3" cy="640.0" r="5.0" fill="none" stroke="#f89ac9" stroke-width="1.0"/>
<circle cx="401.9" cy="639.3" r="5.0" fill="none" stroke="#f89ac9" stroke-width="1.0"/>
<circle cx="405.3" cy="636.0" r="5.0" fill="none" stroke="#f89ac9" stroke-width="1.0"/>
<circle cx="404.3" cy="637.0" r="5.0" fill="none" stroke="#f89ac9" stroke-width="1.0"/>
<circle cx="407.5" cy="633.9" r="5.0" fill="none" stroke="#f89ac9" stroke-width="1.0"/>
<circle cx="408.2" cy="633.3" r="5.0" fill="none" stroke="#f89ac9" stroke-width="1.0"/>
<circle cx="408.3" cy="633.2" r="5.0" fill="none" stroke="#f89ac9" stroke-width="1.0"/>
<circle cx="411.4" cy="630.1" r="5.0" fill="none" stroke="#f89ac9" stroke-width="1.0"/>
<circle cx="410.9" cy="630.7" r="5.0" fill="none" stroke="#f89ac9" stroke-width="1.0"/>
<circle cx="413.8" cy="627.8" r="5.0" fill="none" stroke="#f89ac9" stroke-width="1.0"/>
<circle cx="413.7" cy="628.0" r="5.0" fill="none" stroke="#f89ac9" stroke-width="1.0"/>
<circle cx="415.1" cy="626.6" r="5.0" fill="none" stroke="#f89ac9" stroke-width="1.0"/>
<circle cx="417.8" cy="623.9" r="5.0" fill="none" stroke="#f89ac9" stroke-width="1.0"/>
<circle cx="420.8" cy="621.0" r="5.0" fill="none" stroke="#f89ac9" stroke-width="1.0"/>
<circle cx="419.3" cy="622.6" r="5.0" fill="none" stroke="#f89ac9" stroke-width="1.0"/>
<circle cx="421.1" cy="620.9" r="5.0" fill="none" stroke="#f89ac9" stroke-width="1.0"/>
<circle cx="424.0" cy="618.0" r="5.0" fill="none" stroke="#f89ac9" stroke-width="1.0"/>
<circle cx="426.7" cy="615.4" r="5.0" fill="none" stroke="#f89ac9" stroke-width="1.0"/>
<circle cx="426.5" cy="615.6" r="5.0" fill="none" stroke="#f89ac9" stroke-width="1.0"/>
<circle cx="427.2" cy="615.0" r="5.0" fill="none" stroke="#f89ac9" stroke-width="1.0"/>
<circle cx="430.8" cy="611.4" r="5.0" fill="none" stroke="#f89ac9" stroke-width="1.0"/>
<circle cx="428.5" cy="613.8" r="5.0" fill="none" stroke="#f89ac9" stroke-width="1.0"/>
<circle cx="433.1" cy="609.3" r="5.0" fill="none" stroke="#f89ac9" stroke-width="1.0"/>
<circle cx="432.2" cy="610.3" r="5.0" fill="none" stroke="#f89ac9" stroke-width="1.0"/>
<circle cx="431.8" cy="610.6" r="5.0" fill="none" stroke="#f89ac9" stroke-width="1.0"/>
<circle cx="437.3" cy="605.2" r="5.0" fill="none" stroke="#f89ac9" stroke-width="1.0"/>
<circle cx="436.0" cy="606.7" r="5.0" fill="none" stroke="#f89ac9" stroke-width="1.0"/>
<circle cx="440.8" cy="602.0" r="5.0" fill="none" stroke="#f89ac9" stroke-width="1.0"/>
<circle cx="440.4" cy="602.5" r="5.0" fill="none" stroke="#f89ac9" stroke-width="1.0"/>
<circle cx="443.4" cy="599.6" r="5.0" fill="none" stroke="#f89ac9" stroke-width="1.0"/>
<circle cx="449.0" cy="594.1" r="5.0" fill="none" stroke="#f89ac9" stroke-width="1.0"/>
<circle cx="447.9" cy="595.4" r="5.0" fill="none" stroke="#f89ac9" stroke-width="1.0"/>
<circle cx="452.1" cy="591.3" r="5.0" fill="none" stroke="#f89ac9" stroke-width="1.0"/>
<circle cx="453.6" cy="589.9" r="5.0" fill="none" stroke="#f89ac9" stroke-width="1.0"/>
<circle cx="455.9" cy="587.8" r="5.0" fill="none" stroke="#f89ac9" stroke-width="1.0"/>
<circle cx="458.4" cy="585.4" r="5.0" fill="none" stroke="#f89ac9" stroke-width="1.0"/>
<circle cx="459.3" cy="584.5" r="5.0" fill="none" stroke="#f89ac9" stroke-width="1.0"/>
<circle cx="464.5" cy="579.5" r="5.0" fill="none" stroke="#f89ac9" stroke-width="1.0"/>
<polyline points="405.1,636.2 409.5,632.0 413.9,627.7 418.4,623.4 422.8,619.2 427.2,614.9 431.7,610.7 436.2,606.4 440.6,602.2 445.1,597.9 449.6,593.7 454.0,589.5 458.5,585.2 463.0,581.0" fill="none" stroke="#1ee01e" stroke-width="2" stroke-dasharray="3 3" opacity="0.8"/>
<polyline points="402.0,639.2 406.3,635.1 410.6,630.9 415.0,626.7 419.3,622.5 423.7,618.3 428.0,614.2 432.4,610.0 436.7,605.9 441.1,601.7 445.5,597.6 449.9,593.4 454.2,589.3 458.6,585.1 463.0,581.0" fill="none" stroke="#222" stroke-width="1" stroke-dasharray="1.2 2.6"/>
<rect x="285" y="581" width="178" height="178" fill="none" stroke="#3a3a3a" stroke-width="1.3"/>
<line x1="312.1" y1="759" x2="312.1" y2="756.7" stroke="#2a2a2a" stroke-width="1.2"/>
<line x1="285" y1="731.9" x2="287.3" y2="731.9" stroke="#2a2a2a" stroke-width="1.2"/>
<line x1="463" y1="731.9" x2="460.7" y2="731.9" stroke="#2a2a2a" stroke-width="1.2"/>
<text transform="translate(277.3,737.8) scale(1,1.09)" text-anchor="end" font-size="15.5" fill="#404040">10</text>
<text transform="translate(312.1,781.7) scale(1,1.06)" text-anchor="middle" font-size="15.5" fill="#404040">10</text>
<line x1="342.5" y1="759" x2="342.5" y2="756.7" stroke="#2a2a2a" stroke-width="1.2"/>
<line x1="285" y1="701.5" x2="287.3" y2="701.5" stroke="#2a2a2a" stroke-width="1.2"/>
<line x1="463" y1="701.5" x2="460.7" y2="701.5" stroke="#2a2a2a" stroke-width="1.2"/>
<text transform="translate(277.3,707.4) scale(1,1.09)" text-anchor="end" font-size="15.5" fill="#404040">20</text>
<text transform="translate(342.5,781.7) scale(1,1.06)" text-anchor="middle" font-size="15.5" fill="#404040">20</text>
<line x1="372.9" y1="759" x2="372.9" y2="756.7" stroke="#2a2a2a" stroke-width="1.2"/>
<line x1="285" y1="671.1" x2="287.3" y2="671.1" stroke="#2a2a2a" stroke-width="1.2"/>
<line x1="463" y1="671.1" x2="460.7" y2="671.1" stroke="#2a2a2a" stroke-width="1.2"/>
<text transform="translate(277.3,677.0) scale(1,1.09)" text-anchor="end" font-size="15.5" fill="#404040">30</text>
<text transform="translate(372.9,781.7) scale(1,1.06)" text-anchor="middle" font-size="15.5" fill="#404040">30</text>
<line x1="403.4" y1="759" x2="403.4" y2="756.7" stroke="#2a2a2a" stroke-width="1.2"/>
<line x1="285" y1="640.6" x2="287.3" y2="640.6" stroke="#2a2a2a" stroke-width="1.2"/>
<line x1="463" y1="640.6" x2="460.7" y2="640.6" stroke="#2a2a2a" stroke-width="1.2"/>
<text transform="translate(277.3,646.5) scale(1,1.09)" text-anchor="end" font-size="15.5" fill="#404040">40</text>
<text transform="translate(403.4,781.7) scale(1,1.06)" text-anchor="middle" font-size="15.5" fill="#404040">40</text>
<line x1="433.8" y1="759" x2="433.8" y2="756.7" stroke="#2a2a2a" stroke-width="1.2"/>
<line x1="285" y1="610.2" x2="287.3" y2="610.2" stroke="#2a2a2a" stroke-width="1.2"/>
<line x1="463" y1="610.2" x2="460.7" y2="610.2" stroke="#2a2a2a" stroke-width="1.2"/>
<text transform="translate(277.3,616.1) scale(1,1.09)" text-anchor="end" font-size="15.5" fill="#404040">50</text>
<text transform="translate(433.8,781.7) scale(1,1.06)" text-anchor="middle" font-size="15.5" fill="#404040">50</text>
<text x="374.0" y="573.3" text-anchor="middle" font-size="15.2" font-weight="bold" fill="#1a1a1a">Test: R=1</text>
<text x="375.0" y="804.8" text-anchor="middle" font-size="15.2" font-weight="bold" fill="#262626">Target</text>
<text transform="translate(252.9,779.9) rotate(-90)" font-size="16.0" font-weight="bold" fill="#262626">Output ~= 1*Target + -2.2e-07</text>
<rect x="357" y="691.5" width="106.0" height="67.5" fill="#ffffff" stroke="#3a3a3a" stroke-width="1.3"/>
<circle cx="391.8" cy="703.4" r="4.6" fill="none" stroke="#e0a0c0" stroke-width="1"/>
<line x1="366.2" y1="724.5" x2="415.0" y2="724.5" stroke="#1ee01e" stroke-width="3.2"/>
<line x1="366.2" y1="745.5" x2="412.5" y2="745.5" stroke="#333" stroke-width="1.3" stroke-dasharray="1.4 3.7"/>
<text transform="translate(421.7,710.5) scale(1,1.08)" font-size="14.3" fill="#262626">Data</text>
<text transform="translate(421.7,730.2) scale(1,1.08)" font-size="14.3" fill="#262626">Fit</text>
<text transform="translate(421.7,750.5) scale(1,1.08)" font-size="14.3" fill="#262626">Y = T</text>
<polyline points="520.0,757.0 524.5,752.5 528.9,748.1 533.4,743.6 537.8,739.1 542.3,734.6 546.7,730.2 551.2,725.7 555.6,721.2 560.1,716.8 564.5,712.3 569.0,707.8 573.5,703.4 577.9,698.9 582.4,694.4 586.8,690.0 591.3,685.5 595.8,681.1 600.3,676.6 604.7,672.2 609.2,667.7 613.7,663.3 618.2,658.8 622.6,654.4 627.1,649.9 631.6,645.5 636.1,641.0 640.6,636.6 645.1,632.2 649.5,627.7 654.0,623.3 658.5,618.9 663.0,614.4 667.5,610.0 672.0,605.6 676.5,601.1 681.0,596.7 685.5,592.3 690.0,587.9 694.5,583.4 699.0,579.0" fill="none" stroke="#f89ac9" stroke-width="12.5" stroke-linecap="round" stroke-linejoin="round"/>
<rect x="520" y="579" width="179" height="178" fill="none" stroke="#3a3a3a" stroke-width="1.3"/>
<line x1="547.2" y1="757" x2="547.2" y2="754.7" stroke="#2a2a2a" stroke-width="1.2"/>
<line x1="520" y1="729.9" x2="522.3" y2="729.9" stroke="#2a2a2a" stroke-width="1.2"/>
<line x1="699" y1="729.9" x2="696.7" y2="729.9" stroke="#2a2a2a" stroke-width="1.2"/>
<text transform="translate(512.7,735.8) scale(1,1.09)" text-anchor="end" font-size="15.5" fill="#404040">10</text>
<text transform="translate(547.2,779.1) scale(1,1.06)" text-anchor="middle" font-size="15.5" fill="#404040">10</text>
<line x1="577.8" y1="757" x2="577.8" y2="754.7" stroke="#2a2a2a" stroke-width="1.2"/>
<line x1="520" y1="699.5" x2="522.3" y2="699.5" stroke="#2a2a2a" stroke-width="1.2"/>
<line x1="699" y1="699.5" x2="696.7" y2="699.5" stroke="#2a2a2a" stroke-width="1.2"/>
<text transform="translate(512.7,705.4) scale(1,1.09)" text-anchor="end" font-size="15.5" fill="#404040">20</text>
<text transform="translate(577.8,779.1) scale(1,1.06)" text-anchor="middle" font-size="15.5" fill="#404040">20</text>
<line x1="608.4" y1="757" x2="608.4" y2="754.7" stroke="#2a2a2a" stroke-width="1.2"/>
<line x1="520" y1="669.1" x2="522.3" y2="669.1" stroke="#2a2a2a" stroke-width="1.2"/>
<line x1="699" y1="669.1" x2="696.7" y2="669.1" stroke="#2a2a2a" stroke-width="1.2"/>
<text transform="translate(512.7,675.0) scale(1,1.09)" text-anchor="end" font-size="15.5" fill="#404040">30</text>
<text transform="translate(608.4,779.1) scale(1,1.06)" text-anchor="middle" font-size="15.5" fill="#404040">30</text>
<line x1="639.0" y1="757" x2="639.0" y2="754.7" stroke="#2a2a2a" stroke-width="1.2"/>
<line x1="520" y1="638.6" x2="522.3" y2="638.6" stroke="#2a2a2a" stroke-width="1.2"/>
<line x1="699" y1="638.6" x2="696.7" y2="638.6" stroke="#2a2a2a" stroke-width="1.2"/>
<text transform="translate(512.7,644.5) scale(1,1.09)" text-anchor="end" font-size="15.5" fill="#404040">40</text>
<text transform="translate(639.0,779.1) scale(1,1.06)" text-anchor="middle" font-size="15.5" fill="#404040">40</text>
<line x1="669.6" y1="757" x2="669.6" y2="754.7" stroke="#2a2a2a" stroke-width="1.2"/>
<line x1="520" y1="608.2" x2="522.3" y2="608.2" stroke="#2a2a2a" stroke-width="1.2"/>
<line x1="699" y1="608.2" x2="696.7" y2="608.2" stroke="#2a2a2a" stroke-width="1.2"/>
<text transform="translate(512.7,614.1) scale(1,1.09)" text-anchor="end" font-size="15.5" fill="#404040">50</text>
<text transform="translate(669.6,779.1) scale(1,1.06)" text-anchor="middle" font-size="15.5" fill="#404040">50</text>
<text x="609.5" y="570.7" text-anchor="middle" font-size="15.1" font-weight="bold" fill="#1a1a1a">All: R=1</text>
<text x="610.7" y="802.4" text-anchor="middle" font-size="15.2" font-weight="bold" fill="#262626">Target</text>
<text transform="translate(488.3,779.9) rotate(-90)" font-size="16.0" font-weight="bold" fill="#262626">Output ~= 1*Target + -3.2e-08</text>
<rect x="592" y="689" width="107.0" height="68.0" fill="#ffffff" stroke="#3a3a3a" stroke-width="1.3"/>
<circle cx="627.4" cy="701.6" r="4.6" fill="none" stroke="#e0a0c0" stroke-width="1"/>
<line x1="601.2" y1="722.3" x2="651.3" y2="722.3" stroke="#e00000" stroke-width="3.2"/>
<line x1="601.2" y1="743.8" x2="648.8" y2="743.8" stroke="#333" stroke-width="1.3" stroke-dasharray="1.4 3.7"/>
<text transform="translate(657.3,708.2) scale(1,1.08)" font-size="14.4" fill="#262626">Data</text>
<text transform="translate(657.3,728.0) scale(1,1.08)" font-size="14.4" fill="#262626">Fit</text>
<text transform="translate(657.3,748.5) scale(1,1.08)" font-size="14.4" fill="#262626">Y = T</text>
<text x="317" y="272.5" class="serif" font-size="20.5" fill="#111">(<tspan font-weight="bold">a</tspan>)</text>
<text x="364.5" y="272.5" class="serif" font-size="21" fill="#111">Case-1</text>
<text x="316" y="547.2" class="serif" font-size="20.5" fill="#111">(<tspan font-weight="bold">b</tspan>)</text>
<text x="361.3" y="547.2" class="serif" font-size="21" fill="#111">Case-2-</text>
<text x="317.3" y="849.7" class="serif" font-size="20.5" fill="#111">(<tspan font-weight="bold">c</tspan>)</text>
<text x="364.5" y="849.7" class="serif" font-size="21" fill="#111">Case-3</text>
</svg></body></html>
